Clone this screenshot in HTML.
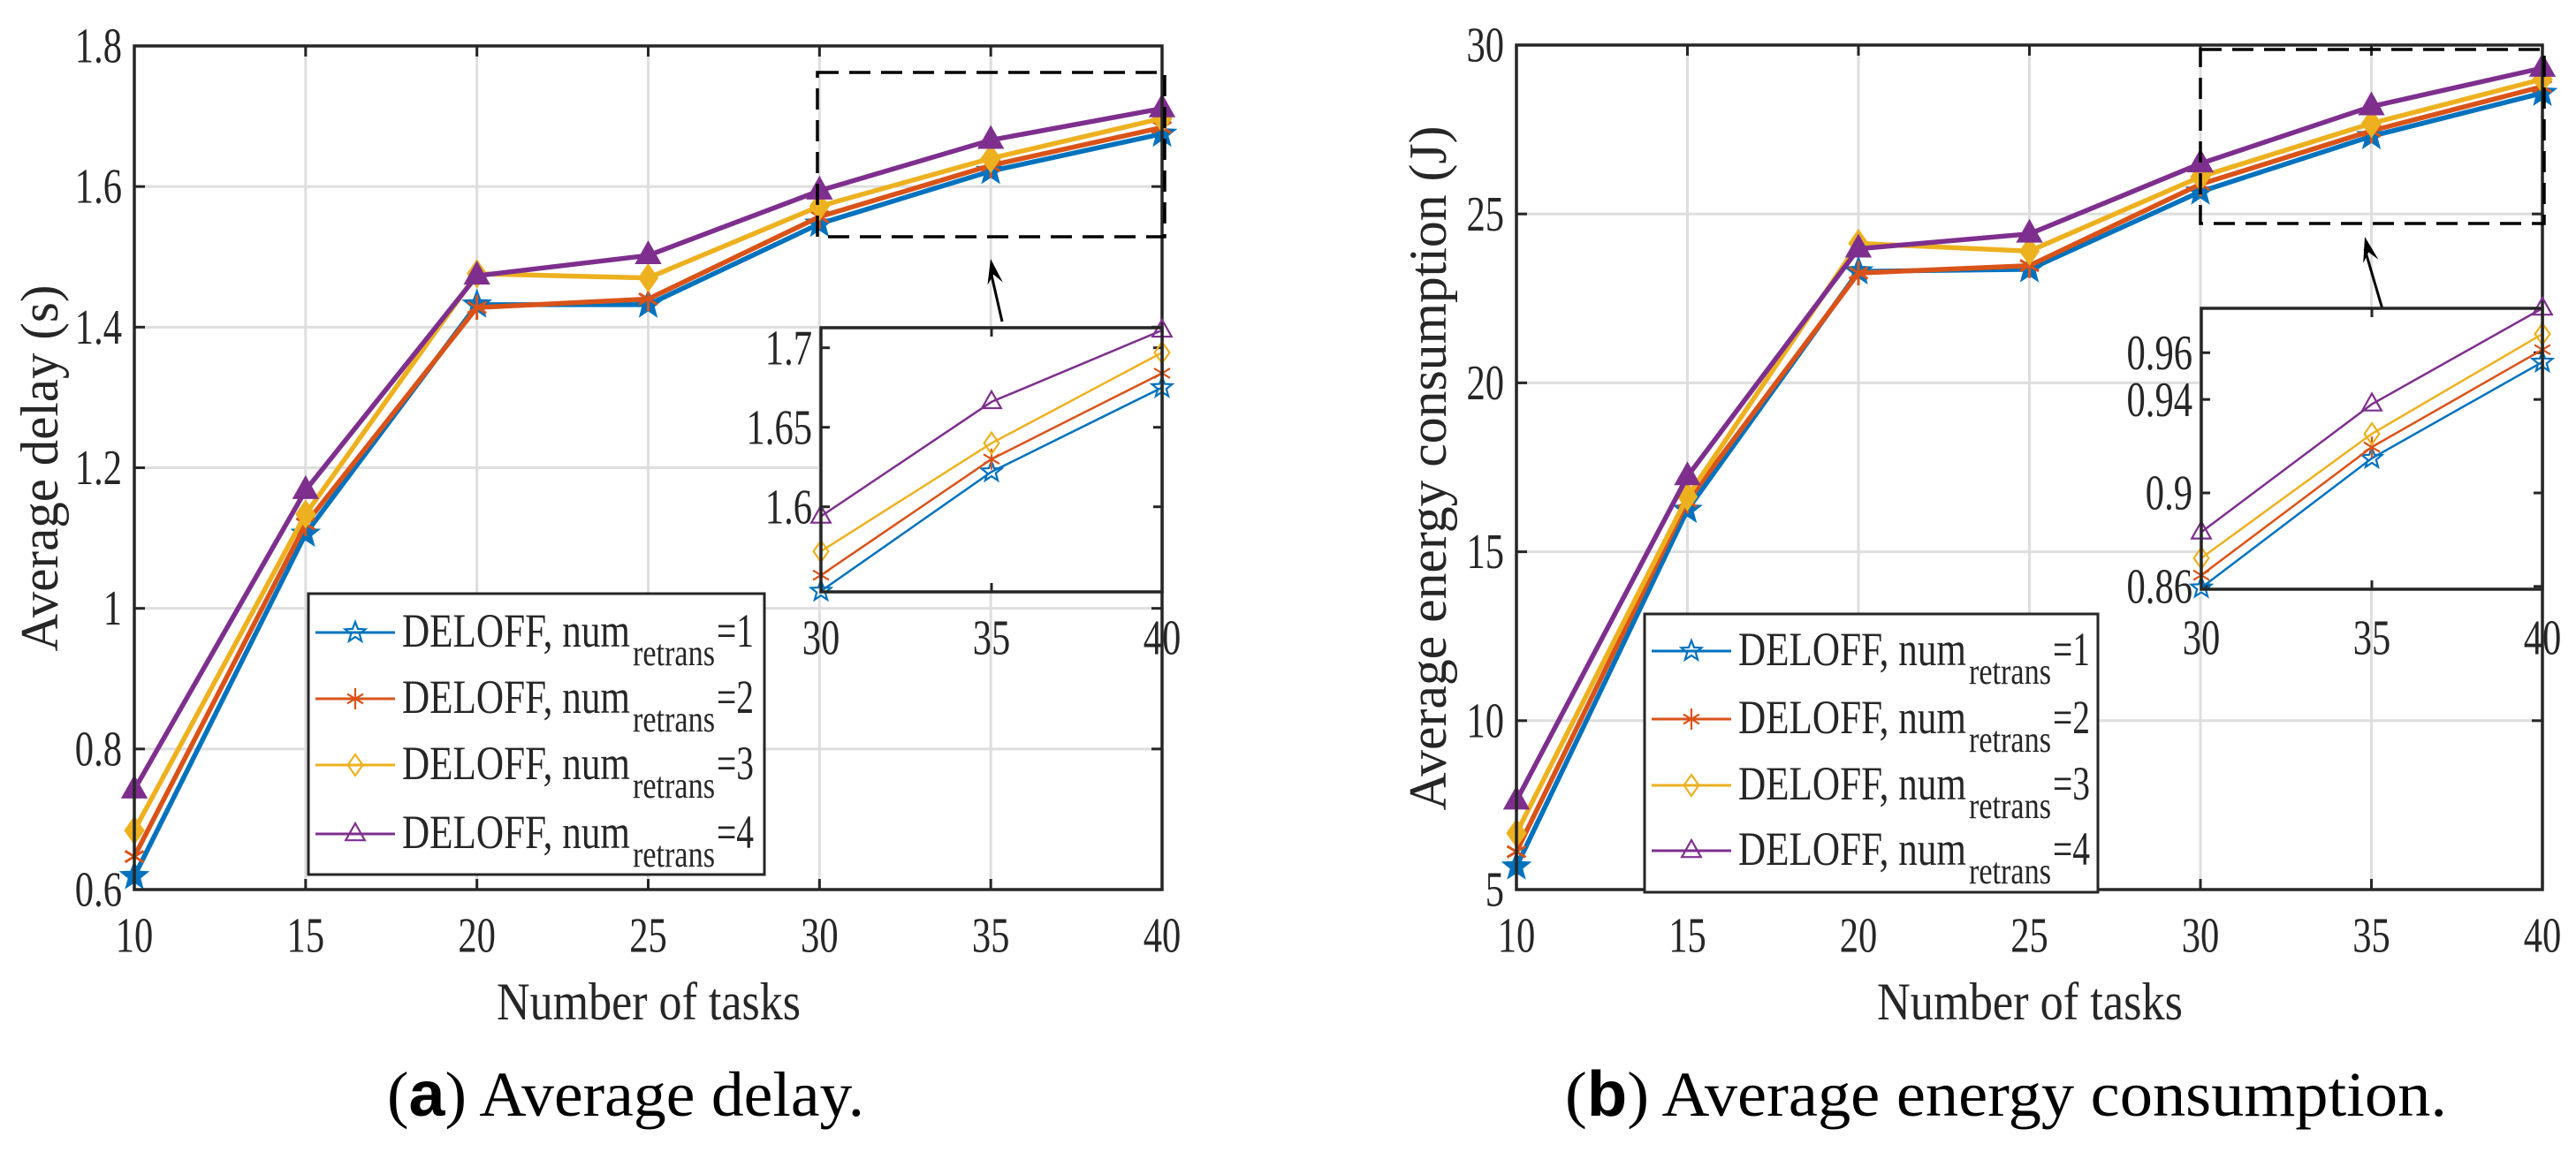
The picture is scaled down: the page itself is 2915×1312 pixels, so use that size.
<!DOCTYPE html>
<html><head><meta charset="utf-8"><style>
html,body{margin:0;padding:0;background:#fff;}
svg{display:block;}
</style></head><body>
<svg id="fig" width="2915" height="1312" viewBox="0 0 2915 1312" xmlns="http://www.w3.org/2000/svg"></svg>
<script>
// ---- data ----
const tasks = [10, 15, 20, 25, 30, 35, 40];
const seriesNames = ["1", "2", "3", "4"];
const delayR1 = [0.619, 1.106, 1.432, 1.432, 1.547, 1.622, 1.675];
const delayR2 = [0.647, 1.120, 1.428, 1.440, 1.557, 1.630, 1.684];
const delayR3 = [0.684, 1.134, 1.476, 1.470, 1.572, 1.640, 1.697];
const delayR4 = [0.742, 1.168, 1.473, 1.502, 1.594, 1.666, 1.711];
const energyR1 = [5.68, 16.24, 23.30, 23.36, 25.66, 27.30, 28.58];
const energyR2 = [6.12, 16.50, 23.25, 23.47, 25.88, 27.46, 28.77];
const energyR3 = [6.67, 16.63, 24.13, 23.90, 26.10, 27.68, 28.99];
const energyR4 = [7.63, 17.23, 23.97, 24.41, 26.49, 28.18, 29.32];
const insetTasks = [30, 35, 40];
const energyInsetR1 = [0.8594, 0.9148, 0.956];
const energyInsetR2 = [0.8648, 0.9196, 0.9613];
const energyInsetR3 = [0.8721, 0.9253, 0.968];
const energyInsetR4 = [0.8832, 0.938, 0.979];
const xTicks = [10, 15, 20, 25, 30, 35, 40];
const delayTicks = [0.6, 0.8, 1.0, 1.2, 1.4, 1.6, 1.8];
const delayTickLabels = ["0.6", "0.8", "1", "1.2", "1.4", "1.6", "1.8"];
const energyTicks = [5, 10, 15, 20, 25, 30];
const energyTickLabels = ["5", "10", "15", "20", "25", "30"];
const delayInsetTicks = [1.6, 1.65, 1.7];
const delayInsetLabels = ["1.6", "1.65", "1.7"];
const energyInsetTicks = [0.86, 0.9, 0.94, 0.96];
const energyInsetLabels = ["0.86", "0.9", "0.94", "0.96"];

const colors = ["#0072BD", "#D95319", "#EDB120", "#7E2F8E"];
const markers = ["star", "asterisk", "diamond", "triangle"];
const NS = "http://www.w3.org/2000/svg";
const svg = document.getElementById("fig");

function el(tag, attrs, parent) {
  const e = document.createElementNS(NS, tag);
  for (const k in attrs) e.setAttribute(k, attrs[k]);
  (parent || svg).appendChild(e);
  return e;
}
function txt(parent, x, y, s, size, anchor, sx, name, tl) {
  const g = el("g", {transform: `translate(${x},${y}) scale(${sx},1)`}, parent);
  const t = el("text", {x: 0, y: 0, "font-family": "Liberation Serif, serif", "font-size": size, fill: "#262626", "text-anchor": anchor, "dominant-baseline": "central"}, g);
  if (tl) { t.setAttribute("textLength", tl); t.setAttribute("lengthAdjust", "spacingAndGlyphs"); }
  t.textContent = s;
  
  
  return t;
}
function marker(parent, type, cx, cy, r, color, filled, sw) {
  let d = "";
  if (type === "star") {
    for (let i = 0; i < 10; i++) {
      const a = -Math.PI / 2 + i * Math.PI / 5;
      const rr = i % 2 ? r * 0.42 : r;
      d += (i ? "L" : "M") + (cx + rr * Math.cos(a)).toFixed(1) + "," + (cy + rr * Math.sin(a)).toFixed(1);
    }
    d += "Z";
  } else if (type === "diamond") {
    d = `M${cx},${cy - r}L${cx + r * 0.7},${cy}L${cx},${cy + r}L${cx - r * 0.7},${cy}Z`;
  } else if (type === "triangle") {
    d = `M${cx},${cy - r}L${cx + r * 0.9},${cy + r * 0.6}L${cx - r * 0.9},${cy + r * 0.6}Z`;
  } else {
    const q = r * 0.75;
    d = `M${cx},${cy - r}L${cx},${cy + r}M${cx - q},${cy - q * 0.6}L${cx + q},${cy + q * 0.6}M${cx - q},${cy + q * 0.6}L${cx + q},${cy - q * 0.6}`;
  }
  const p = el("path", {d: d, stroke: color, "stroke-width": sw, fill: (filled && type !== "asterisk") ? color : "none", "stroke-linejoin": "miter"}, parent);
  
  
}

function drawChart(cfg) {
  const g = el("g", {});
  
  
  const X = v => cfg.x0 + (v - 10) / 30 * (cfg.x1 - cfg.x0);
  const Y = v => cfg.y0 - (v - cfg.ymin) / (cfg.ymax - cfg.ymin) * (cfg.y0 - cfg.y1);
  xTicks.forEach(t => {
    const l = el("line", {x1: X(t), x2: X(t), y1: cfg.y1, y2: cfg.y0, stroke: "#dedede", "stroke-width": 3}, g);
    
    
  });
  cfg.yTicks.forEach(t => {
    const l = el("line", {x1: cfg.x0, x2: cfg.x1, y1: Y(t), y2: Y(t), stroke: "#dedede", "stroke-width": 3}, g);
    
    
  });
  xTicks.forEach(t => {
    el("line", {x1: X(t), x2: X(t), y1: cfg.y0, y2: cfg.y0 - 12, stroke: "#262626", "stroke-width": 3}, g);
    el("line", {x1: X(t), x2: X(t), y1: cfg.y1, y2: cfg.y1 + 12, stroke: "#262626", "stroke-width": 3}, g);
    txt(g, X(t), 1059, String(t), 56, "middle", 0.76, "x-tick-label");
  });
  cfg.yTicks.forEach((t, i) => {
    el("line", {x1: cfg.x0, x2: cfg.x0 + 12, y1: Y(t), y2: Y(t), stroke: "#262626", "stroke-width": 3}, g);
    el("line", {x1: cfg.x1, x2: cfg.x1 - 12, y1: Y(t), y2: Y(t), stroke: "#262626", "stroke-width": 3}, g);
    txt(g, cfg.x0 - 14, Y(t), cfg.yLabels[i], 56, "end", 0.76, "y-tick-label");
  });
  cfg.series.forEach((s, k) => {
    const pts = tasks.map((t, i) => X(t).toFixed(1) + "," + Y(s[i]).toFixed(1)).join(" ");
    const pl = el("polyline", {points: pts, fill: "none", stroke: colors[k], "stroke-width": 5.5, "stroke-linejoin": "round"}, g);
    
    
    tasks.forEach((t, i) => marker(g, markers[k], X(t), Y(s[i]), 14, colors[k], true, 3));
  });
  const box = el("rect", {x: cfg.x0, y: cfg.y1, width: cfg.x1 - cfg.x0, height: cfg.y0 - cfg.y1, fill: "none", stroke: "#262626", "stroke-width": 3.5}, g);
  
  
  txt(g, cfg.xlabelX, 1134, "Number of tasks", 60, "middle", 1, "x-axis-title", cfg.xlabelW);
  const gy = el("g", {transform: `translate(${cfg.ylabelX},530) rotate(-90)`}, g);
  txt(gy, 0, 0, cfg.ylabel, 60, "middle", 1, "y-axis-title", cfg.ylabelW);
  const dr = el("rect", {x: cfg.dash[0], y: cfg.dash[1], width: cfg.dash[2], height: cfg.dash[3], fill: "none", stroke: "#000", "stroke-width": 3.5, "stroke-dasharray": "24,12"}, g);
  
  
  const a = cfg.arrow;
  el("line", {x1: a[0], y1: a[1], x2: a[2], y2: a[3] + 14, stroke: "#000", "stroke-width": 3}, g);
  const ang = Math.atan2(a[3] - a[1], a[2] - a[0]);
  const hx = a[2], hy = a[3];
  const p1 = [hx - 30 * Math.cos(ang - 0.3), hy - 30 * Math.sin(ang - 0.3)];
  const p2 = [hx - 30 * Math.cos(ang + 0.3), hy - 30 * Math.sin(ang + 0.3)];
  const ah = el("path", {d: `M${hx},${hy}L${p1[0]},${p1[1]}L${hx - 18 * Math.cos(ang)},${hy - 18 * Math.sin(ang)}L${p2[0]},${p2[1]}Z`, fill: "#000"}, g);
  
  
  const ins = cfg.inset;
  const ig = el("g", {}, g);
  
  
  el("rect", {x: ins.x0, y: ins.y1, width: ins.x1 - ins.x0, height: ins.y0 - ins.y1, fill: "#fff"}, ig);
  const IX = v => ins.x0 + (v - 30) / 10 * (ins.x1 - ins.x0);
  const IY = v => ins.y0 - (v - ins.ymin) / (ins.ymax - ins.ymin) * (ins.y0 - ins.y1);
  insetTasks.forEach(t => {
    el("line", {x1: IX(t), x2: IX(t), y1: ins.y0, y2: ins.y0 - 10, stroke: "#262626", "stroke-width": 3}, ig);
    el("line", {x1: IX(t), x2: IX(t), y1: ins.y1, y2: ins.y1 + 10, stroke: "#262626", "stroke-width": 3}, ig);
    txt(ig, IX(t), 722, String(t), 56, "middle", 0.76, "inset-x-tick-label");
  });
  ins.ticks.forEach((t, i) => {
    el("line", {x1: ins.x0, x2: ins.x0 + 10, y1: IY(t), y2: IY(t), stroke: "#262626", "stroke-width": 3}, ig);
    el("line", {x1: ins.x1, x2: ins.x1 - 10, y1: IY(t), y2: IY(t), stroke: "#262626", "stroke-width": 3}, ig);
    txt(ig, ins.x0 - 10, IY(t), ins.labels[i], 56, "end", 0.76, "inset-y-tick-label");
  });
  ins.series.forEach((s, k) => {
    const pts = insetTasks.map((t, i) => IX(t).toFixed(1) + "," + IY(s[i]).toFixed(1)).join(" ");
    const pl = el("polyline", {points: pts, fill: "none", stroke: colors[k], "stroke-width": 2.5}, ig);
    
    
    insetTasks.forEach((t, i) => marker(ig, markers[k], IX(t), IY(s[i]), 12, colors[k], false, 2.2));
  });
  el("path", {d: `M${ins.x0},${ins.y0}V${ins.y1}H${ins.x1}V${ins.y0}Z`, fill: "none", stroke: "#262626", "stroke-width": 3.5}, ig);
  const L = cfg.legend;
  const lg = el("g", {}, g);
  
  
  el("rect", {x: L[0], y: L[1], width: L[2], height: L[3], fill: "#fff", stroke: "#262626", "stroke-width": 3}, lg);
  cfg.legendRows.forEach((ry, k) => {
    const e = el("g", {}, lg);
    
    
    el("line", {x1: L[0] + 8, x2: L[0] + 98, y1: ry, y2: ry, stroke: colors[k], "stroke-width": 3}, e);
    marker(e, markers[k], L[0] + 53, ry, 12, colors[k], false, 2.2);
    txt(e, L[0] + 106, ry - 2, "DELOFF, num", 54, "start", 1, "legend-label", 258);
    txt(e, L[0] + 367, ry + 24, "retrans", 42, "start", 1, "legend-subscript", 93);
    txt(e, L[0] + 462, ry - 2, "=" + seriesNames[k], 54, "start", 1, "legend-value", 42);
  });
  const cg = el("g", {transform: `translate(${cfg.capX},1239)`}, g);
  
  
  const ct = el("text", {x: 0, y: 0, "font-family": "Liberation Serif, serif", "font-size": 72, fill: "#000", "dominant-baseline": "central", textLength: cfg.capW, lengthAdjust: "spacingAndGlyphs"}, cg);
  ct.innerHTML = `(<tspan font-family="Liberation Sans, sans-serif" font-weight="bold">${cfg.capLetter}</tspan>) ${cfg.caption}`;
}

drawChart({
  name: "delay-chart", x0: 152, x1: 1315, y0: 1007, y1: 52, ymin: 0.6, ymax: 1.8,
  yTicks: delayTicks, yLabels: delayTickLabels,
  series: [delayR1, delayR2, delayR3, delayR4],
  ylabel: "Average delay (s)", ylabelX: 45, ylabelW: 415, xlabelX: 734, xlabelW: 344,
  dash: [925, 82, 393, 186], arrow: [1134, 364, 1121, 293],
  inset: {x0: 929, x1: 1315, y0: 670, y1: 371, ymin: 1.5465, ymax: 1.7126, ticks: delayInsetTicks, labels: delayInsetLabels,
    series: [delayR1.slice(4), delayR2.slice(4), delayR3.slice(4), delayR4.slice(4)]},
  legend: [349, 672, 516, 318], legendRows: [716, 791, 866, 944],
  capX: 438, capW: 540, capLetter: "a", caption: "Average delay."
});
drawChart({
  name: "energy-chart", x0: 1716, x1: 2877, y0: 1007, y1: 51, ymin: 5, ymax: 30,
  yTicks: energyTicks, yLabels: energyTickLabels,
  series: [energyR1, energyR2, energyR3, energyR4],
  ylabel: "Average energy consumption (J)", ylabelX: 1616, ylabelW: 775, xlabelX: 2297, xlabelW: 346,
  dash: [2490, 56, 389, 197], arrow: [2696, 350, 2676, 268],
  inset: {x0: 2491, x1: 2877, y0: 667, y1: 349, ymin: 0.8588, ymax: 0.979, ticks: energyInsetTicks, labels: energyInsetLabels,
    series: [energyInsetR1, energyInsetR2, energyInsetR3, energyInsetR4]},
  legend: [1861, 695, 513, 315], legendRows: [737, 814, 889, 963],
  capX: 1771, capW: 998, capLetter: "b", caption: "Average energy consumption."
});
</script>
</body></html>
